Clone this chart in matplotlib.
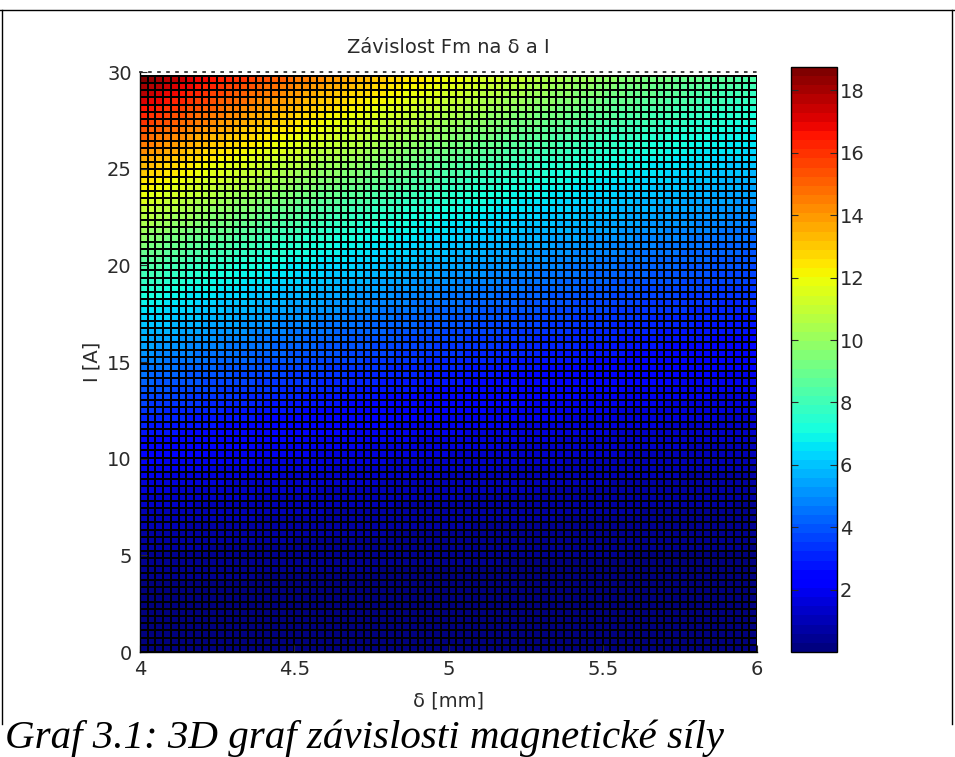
import matplotlib
matplotlib.use("Agg")
import matplotlib.pyplot as plt
from matplotlib.lines import Line2D
import numpy as np

plt.rcParams['font.family'] = ['DejaVu Sans']

# grid of the surface (80 x 80 cells, as counted in the picture)
delta_mm = np.linspace(4, 6, 81)
current_a = np.linspace(0, 29.8, 81)
# peak force (delta = 4 mm, I = 30 A)
fm_peak = 18.75
delta_ref = 4.0
current_ref = 30.0

x_ticks = [4, 4.5, 5, 5.5, 6]
y_ticks = [0, 5, 10, 15, 20, 25, 30]
cb_ticks = [2, 4, 6, 8, 10, 12, 14, 16, 18]

# Fm ~ I^2 / delta^2, scaled to the peak
D, I = np.meshgrid(delta_mm, current_a)
fm = fm_peak * (I / current_ref) ** 2 * (delta_ref / D) ** 2

fig = plt.figure(figsize=(9.55, 7.57), dpi=100)
W, H = 955, 757
txt = '#2a2a2a'

ax = fig.add_axes([140 / W, 1 - 652 / H, 617 / W, 580 / H])
cmap = plt.get_cmap('jet', 64)
mesh = ax.pcolormesh(delta_mm, current_a, fm[1:, :-1], cmap=cmap, vmin=0, vmax=fm_peak,
                     shading='flat', edgecolors='black', linewidth=1.4)
ax.set_xlim(4, 6)
ax.set_ylim(0, 30)
ax.set_xticks(x_ticks)
ax.set_xticklabels(['4', '4.5', '5', '5.5', '6'])
ax.set_yticks(y_ticks)
ax.tick_params(direction='in', length=5, labelsize=14, colors=txt, pad=6)
for s in ['left', 'bottom']:
    ax.spines[s].set_color('black')
    ax.spines[s].set_linewidth(1.0)
ax.spines['right'].set_visible(False)
ax.spines['top'].set_linestyle((0, (1, 4)))
ax.spines['top'].set_linewidth(1.3)
ax.spines['top'].set_color('#333333')
ax.set_title('Závislost Fm na δ a I', fontsize=14, color=txt, pad=14)
ax.set_xlabel('δ [mm]', fontsize=14, color=txt, labelpad=9)
ax.set_ylabel('I [A]', fontsize=14, color=txt, labelpad=4)

cax = fig.add_axes([791 / W, 1 - 652 / H, 46 / W, 585 / H])
cb = fig.colorbar(mesh, cax=cax, ticks=cb_ticks)
cb.outline.set_linewidth(1.0)
cb.outline.set_edgecolor('black')
cax.tick_params(direction='in', length=5, labelsize=14, colors=txt, pad=2,
                left=True, right=True)
cax.tick_params(which='minor', length=0)

# document frame and caption
fig.add_artist(Line2D([0, 1], [1 - 10 / H, 1 - 10 / H], color='black', lw=1.0))
fig.add_artist(Line2D([2 / W, 2 / W], [1 - 10 / H, 1 - 724 / H], color='black', lw=1.0))
fig.add_artist(Line2D([952 / W, 952 / W], [1 - 10 / H, 1 - 724 / H], color='black', lw=1.0))
fig.text(5 / W, 1 - 748 / H, 'Graf 3.1: 3D graf závislosti magnetické síly',
         family='Liberation Serif', style='italic', fontsize=29.5, va='baseline', ha='left')

fig.savefig('out.png', dpi=100)
